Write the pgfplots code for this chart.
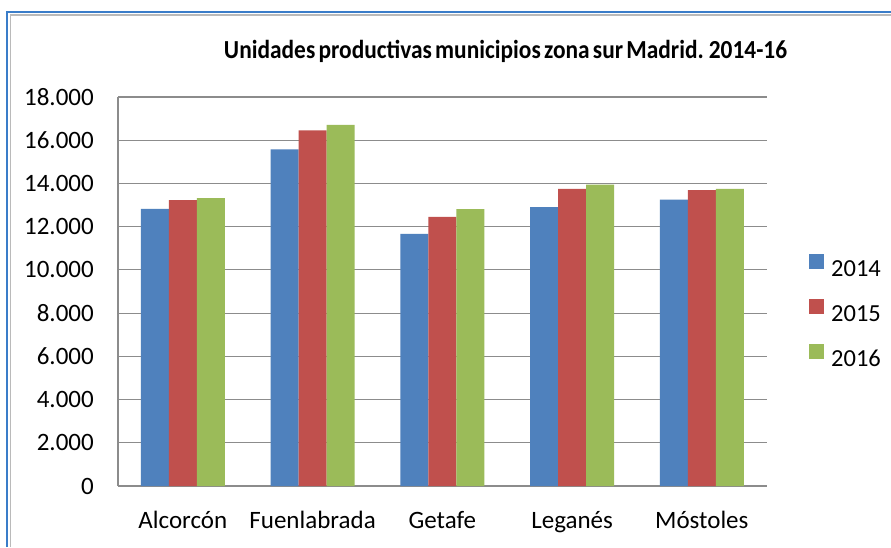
\documentclass[border=0pt]{standalone}
\usepackage{fontspec}
\setmainfont{Carlito}
\usepackage{graphicx}
\usepackage{pgfplots}
\pgfplotsset{compat=1.18}
\definecolor{cblue}{HTML}{4F81BD}
\definecolor{cred}{HTML}{C0504D}
\definecolor{cgreen}{HTML}{9BBB59}
\definecolor{gridc}{HTML}{8C8C8C}
\definecolor{frameblue}{HTML}{3A7DC9}
\begin{document}
\begin{tikzpicture}[x=1pt,y=1pt]
\path[use as bounding box] (0,0) rectangle (891,547);
\fill[white] (0,0) rectangle (891,547);
\draw[frameblue, line width=2pt] (7,0) -- (7,535) -- (891,535);
\draw[gridc!60, line width=1.2pt] (10.5,0) -- (10.5,532) -- (891,532);
\node[anchor=base, inner sep=0pt] at (505.5,488) {\resizebox{563pt}{\height}{\fontsize{26}{30}\bfseries\selectfont\spaceskip=0.14em plus 0em Unidades productivas municipios zona sur Madrid. 2014-16}};
\begin{axis}[
  at={(118pt,61pt)}, anchor=south west,
  width=648.7pt, height=389pt, scale only axis,
  ybar=0pt, bar width=28pt,
  xmin=-0.5, xmax=4.5, ymin=0, ymax=18000,
  xtick={0,1,2,3,4},
  xticklabels={Alcorcón,Fuenlabrada,Getafe,Leganés,Móstoles},
  ytick={0,2000,4000,6000,8000,10000,12000,14000,16000,18000},
  scaled y ticks=false,
  /pgf/number format/.cd, 1000 sep={.}, assume math mode=true, /pgfplots/.cd,
  axis x line*=bottom, axis y line*=left,
  axis line style={gridc, line width=1.2pt, -},
  major tick length=0pt,
  ymajorgrids, grid style={gridc, line width=1.2pt},
  tick label style={font=\fontsize{25}{29}\selectfont, inner sep=0pt},
  yticklabel style={anchor=east, xshift=-24pt},
  xticklabel style={anchor=base, yshift=-42pt},
  legend style={draw=none, fill=none, at={(1.0606,0.452)}, anchor=west,
    font=\fontsize{24.5}{28}\selectfont, row sep=22pt, column sep=7pt,
    nodes={inner sep=0pt, text height=16pt, text depth=0pt}},
  legend cell align=left,
  legend image code/.code={\fill[#1] (0pt,0pt) rectangle (15pt,15pt);},
]
\addplot[fill=cblue, draw=none] coordinates {(0,12820) (1,15580) (2,11670) (3,12910) (4,13250)};
\addplot[fill=cred, draw=none] coordinates {(0,13230) (1,16450) (2,12450) (3,13750) (4,13690)};
\addplot[fill=cgreen, draw=none] coordinates {(0,13320) (1,16715) (2,12810) (3,13950) (4,13750)};
\legend{2014,2015,2016}
\end{axis}
\end{tikzpicture}
\end{document}
